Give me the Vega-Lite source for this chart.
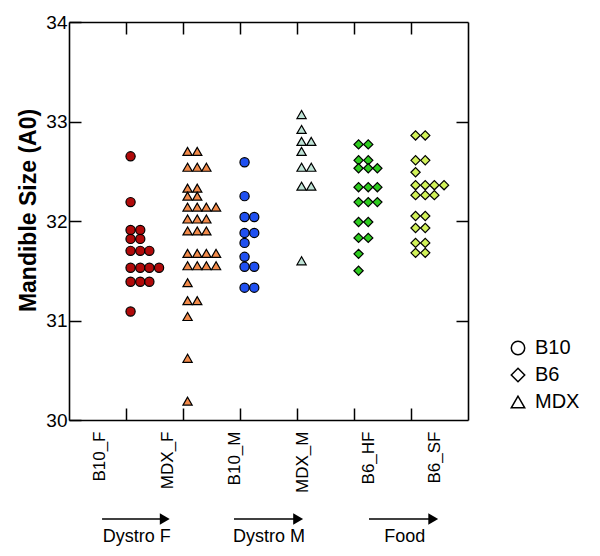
{
  "$schema": "https://vega.github.io/schema/vega-lite/v6.json",
  "width": 399,
  "height": 398,
  "autosize": {"type": "none"},
  "padding": {"left": 69, "top": 22, "right": 132, "bottom": 136},
  "config": {
    "view": {"stroke": null},
    "font": "Liberation Sans",
    "axis": {"grid": false, "domainColor": "black", "tickColor": "black", "domainWidth": 1.6, "tickWidth": 1.5, "labelColor": "black", "titleColor": "black"}
  },
  "datasets": {
    "pts": [
      {"g":"B10_F","s":"B10","v":32.65,"x":1.08},
      {"g":"B10_F","s":"B10","v":32.19,"x":1.08},
      {"g":"B10_F","s":"B10","v":31.91,"x":1.08},
      {"g":"B10_F","s":"B10","v":31.91,"x":1.25},
      {"g":"B10_F","s":"B10","v":31.82,"x":1.08},
      {"g":"B10_F","s":"B10","v":31.82,"x":1.25},
      {"g":"B10_F","s":"B10","v":31.70,"x":1.08},
      {"g":"B10_F","s":"B10","v":31.70,"x":1.25},
      {"g":"B10_F","s":"B10","v":31.70,"x":1.41},
      {"g":"B10_F","s":"B10","v":31.53,"x":1.08},
      {"g":"B10_F","s":"B10","v":31.53,"x":1.25},
      {"g":"B10_F","s":"B10","v":31.53,"x":1.41},
      {"g":"B10_F","s":"B10","v":31.53,"x":1.58},
      {"g":"B10_F","s":"B10","v":31.39,"x":1.08},
      {"g":"B10_F","s":"B10","v":31.39,"x":1.25},
      {"g":"B10_F","s":"B10","v":31.39,"x":1.41},
      {"g":"B10_F","s":"B10","v":31.09,"x":1.08},

      {"g":"MDX_F","s":"MDX","v":32.70,"x":2.08},
      {"g":"MDX_F","s":"MDX","v":32.70,"x":2.25},
      {"g":"MDX_F","s":"MDX","v":32.54,"x":2.08},
      {"g":"MDX_F","s":"MDX","v":32.54,"x":2.25},
      {"g":"MDX_F","s":"MDX","v":32.54,"x":2.41},
      {"g":"MDX_F","s":"MDX","v":32.33,"x":2.08},
      {"g":"MDX_F","s":"MDX","v":32.33,"x":2.25},
      {"g":"MDX_F","s":"MDX","v":32.25,"x":2.08},
      {"g":"MDX_F","s":"MDX","v":32.25,"x":2.25},
      {"g":"MDX_F","s":"MDX","v":32.14,"x":2.08},
      {"g":"MDX_F","s":"MDX","v":32.14,"x":2.25},
      {"g":"MDX_F","s":"MDX","v":32.14,"x":2.41},
      {"g":"MDX_F","s":"MDX","v":32.14,"x":2.58},
      {"g":"MDX_F","s":"MDX","v":32.02,"x":2.08},
      {"g":"MDX_F","s":"MDX","v":32.02,"x":2.25},
      {"g":"MDX_F","s":"MDX","v":32.02,"x":2.41},
      {"g":"MDX_F","s":"MDX","v":31.90,"x":2.08},
      {"g":"MDX_F","s":"MDX","v":31.90,"x":2.25},
      {"g":"MDX_F","s":"MDX","v":31.90,"x":2.41},
      {"g":"MDX_F","s":"MDX","v":31.675,"x":2.08},
      {"g":"MDX_F","s":"MDX","v":31.675,"x":2.25},
      {"g":"MDX_F","s":"MDX","v":31.675,"x":2.41},
      {"g":"MDX_F","s":"MDX","v":31.675,"x":2.58},
      {"g":"MDX_F","s":"MDX","v":31.55,"x":2.08},
      {"g":"MDX_F","s":"MDX","v":31.55,"x":2.25},
      {"g":"MDX_F","s":"MDX","v":31.55,"x":2.41},
      {"g":"MDX_F","s":"MDX","v":31.55,"x":2.58},
      {"g":"MDX_F","s":"MDX","v":31.38,"x":2.08},
      {"g":"MDX_F","s":"MDX","v":31.20,"x":2.08},
      {"g":"MDX_F","s":"MDX","v":31.20,"x":2.25},
      {"g":"MDX_F","s":"MDX","v":31.04,"x":2.08},
      {"g":"MDX_F","s":"MDX","v":30.62,"x":2.08},
      {"g":"MDX_F","s":"MDX","v":30.19,"x":2.08},

      {"g":"B10_M","s":"B10","v":32.59,"x":3.08},
      {"g":"B10_M","s":"B10","v":32.25,"x":3.08},
      {"g":"B10_M","s":"B10","v":32.04,"x":3.08},
      {"g":"B10_M","s":"B10","v":32.04,"x":3.25},
      {"g":"B10_M","s":"B10","v":31.88,"x":3.08},
      {"g":"B10_M","s":"B10","v":31.88,"x":3.25},
      {"g":"B10_M","s":"B10","v":31.78,"x":3.08},
      {"g":"B10_M","s":"B10","v":31.64,"x":3.08},
      {"g":"B10_M","s":"B10","v":31.54,"x":3.08},
      {"g":"B10_M","s":"B10","v":31.54,"x":3.25},
      {"g":"B10_M","s":"B10","v":31.33,"x":3.08},
      {"g":"B10_M","s":"B10","v":31.33,"x":3.25},

      {"g":"MDX_M","s":"MDX","v":33.07,"x":4.08},
      {"g":"MDX_M","s":"MDX","v":32.92,"x":4.08},
      {"g":"MDX_M","s":"MDX","v":32.80,"x":4.08},
      {"g":"MDX_M","s":"MDX","v":32.80,"x":4.25},
      {"g":"MDX_M","s":"MDX","v":32.70,"x":4.08},
      {"g":"MDX_M","s":"MDX","v":32.54,"x":4.08},
      {"g":"MDX_M","s":"MDX","v":32.54,"x":4.25},
      {"g":"MDX_M","s":"MDX","v":32.35,"x":4.08},
      {"g":"MDX_M","s":"MDX","v":32.35,"x":4.25},
      {"g":"MDX_M","s":"MDX","v":31.60,"x":4.08},

      {"g":"B6_HF","s":"B6","v":32.77,"x":5.08},
      {"g":"B6_HF","s":"B6","v":32.77,"x":5.25},
      {"g":"B6_HF","s":"B6","v":32.61,"x":5.08},
      {"g":"B6_HF","s":"B6","v":32.61,"x":5.25},
      {"g":"B6_HF","s":"B6","v":32.53,"x":5.08},
      {"g":"B6_HF","s":"B6","v":32.53,"x":5.25},
      {"g":"B6_HF","s":"B6","v":32.53,"x":5.41},
      {"g":"B6_HF","s":"B6","v":32.34,"x":5.08},
      {"g":"B6_HF","s":"B6","v":32.34,"x":5.25},
      {"g":"B6_HF","s":"B6","v":32.34,"x":5.41},
      {"g":"B6_HF","s":"B6","v":32.19,"x":5.08},
      {"g":"B6_HF","s":"B6","v":32.19,"x":5.25},
      {"g":"B6_HF","s":"B6","v":32.19,"x":5.41},
      {"g":"B6_HF","s":"B6","v":31.99,"x":5.08},
      {"g":"B6_HF","s":"B6","v":31.99,"x":5.25},
      {"g":"B6_HF","s":"B6","v":31.83,"x":5.08},
      {"g":"B6_HF","s":"B6","v":31.83,"x":5.25},
      {"g":"B6_HF","s":"B6","v":31.67,"x":5.08},
      {"g":"B6_HF","s":"B6","v":31.50,"x":5.08},

      {"g":"B6_SF","s":"B6","v":32.86,"x":6.08},
      {"g":"B6_SF","s":"B6","v":32.86,"x":6.25},
      {"g":"B6_SF","s":"B6","v":32.61,"x":6.08},
      {"g":"B6_SF","s":"B6","v":32.61,"x":6.25},
      {"g":"B6_SF","s":"B6","v":32.49,"x":6.08},
      {"g":"B6_SF","s":"B6","v":32.36,"x":6.08},
      {"g":"B6_SF","s":"B6","v":32.36,"x":6.25},
      {"g":"B6_SF","s":"B6","v":32.36,"x":6.41},
      {"g":"B6_SF","s":"B6","v":32.36,"x":6.58},
      {"g":"B6_SF","s":"B6","v":32.26,"x":6.08},
      {"g":"B6_SF","s":"B6","v":32.26,"x":6.25},
      {"g":"B6_SF","s":"B6","v":32.26,"x":6.41},
      {"g":"B6_SF","s":"B6","v":32.05,"x":6.08},
      {"g":"B6_SF","s":"B6","v":32.05,"x":6.25},
      {"g":"B6_SF","s":"B6","v":31.93,"x":6.08},
      {"g":"B6_SF","s":"B6","v":31.93,"x":6.25},
      {"g":"B6_SF","s":"B6","v":31.78,"x":6.08},
      {"g":"B6_SF","s":"B6","v":31.78,"x":6.25},
      {"g":"B6_SF","s":"B6","v":31.68,"x":6.08},
      {"g":"B6_SF","s":"B6","v":31.68,"x":6.25}
    ],
    "arrows": [
      {"grp":"Dystro F","a":0.58,"b":1.68,"t":1.19},
      {"grp":"Dystro M","a":2.895,"b":4.02,"t":3.51},
      {"grp":"Food","a":5.263,"b":6.39,"t":5.89}
    ]
  },
  "layer": [
    {
      "data": {"name": "pts"},
      "mark": {"type": "point", "filled": true, "stroke": "black", "strokeWidth": 1.2, "size": 85, "opacity": 1},
      "encoding": {
        "x": {"field": "x", "type": "quantitative", "scale": {"domain": [0, 7], "nice": false, "zero": false},
              "axis": {"orient": "bottom", "values": [1,2,3,4,5,6], "labels": false, "tickSize": -12, "title": null}},
        "y": {"field": "v", "type": "quantitative", "scale": {"domain": [30, 34], "nice": false, "zero": false},
              "axis": {"orient": "left", "values": [30,31,32,33,34], "tickSize": -12, "labelFontSize": 19, "labelPadding": 14,
                       "title": "Mandible Size (A0)", "titleFontSize": 23, "titleFontWeight": "bold", "titlePadding": 5, "titleY": 188}},
        "fill": {"field": "g", "type": "nominal", "legend": null,
                 "scale": {"domain": ["B10_F","MDX_F","B10_M","MDX_M","B6_HF","B6_SF"],
                           "range": ["#b00a0a","#f28a4a","#2050f0","#bfe3d6","#2ecc1f","#d2f25a"]}},
        "shape": {"field": "s", "type": "nominal",
                  "scale": {"domain": ["B10","B6","MDX"], "range": ["circle","diamond","triangle-up"]},
                  "legend": {"title": null, "orient": "none", "legendX": 439, "legendY": 316, "labelFontSize": 20, "labelColor": "black",
                             "symbolSize": 180, "symbolStrokeWidth": 1.5, "labelOffset": 7, "rowPadding": 7, "padding": 0,
                             "symbolFillColor": "transparent", "symbolStrokeColor": "black",
                             "encode": {"symbols": {"update": {"fill": {"value": "transparent"}, "stroke": {"value": "black"}, "strokeWidth": {"value": 1.5}, "opacity": {"value": 1}}}}}}
      }
    },
    {
      "data": {"name": "pts"},
      "mark": {"type": "point", "opacity": 0},
      "encoding": {
        "x": {"field": "x", "type": "quantitative", "scale": {"domain": [0, 7], "nice": false, "zero": false},
              "axis": {"orient": "top", "values": [1,2,3,4,5,6], "labels": false, "tickSize": -12, "title": null}},
        "y": {"field": "v", "type": "quantitative", "scale": {"domain": [30, 34], "nice": false, "zero": false},
              "axis": {"orient": "right", "values": [31,32,33], "labels": false, "tickSize": -12, "title": null}}
      }
    },
    {
      "data": {"name": "arrows"},
      "mark": {"type": "rule", "stroke": "black", "strokeWidth": 1.5},
      "encoding": {
        "x": {"field": "a", "type": "quantitative", "scale": {"domain": [0, 7], "nice": false, "zero": false},
              "axis": {"orient": "bottom", "values": [0.53, 1.72, 2.91, 4.09, 5.25, 6.42],
                       "labelExpr": "datum.value < 1 ? 'B10_F' : datum.value < 2 ? 'MDX_F' : datum.value < 3 ? 'B10_M' : datum.value < 4.5 ? 'MDX_M' : datum.value < 6 ? 'B6_HF' : 'B6_SF'",
                       "ticks": false, "domain": false, "labelAngle": -90, "labelFontSize": 17, "labelPadding": 11, "title": null, "labelFlush": false, "labelOverlap": false}},
        "x2": {"field": "b"},
        "y": {"datum": 29.005, "scale": {"domain": [30, 34], "nice": false, "zero": false}, "axis": null}
      }
    },
    {
      "data": {"name": "arrows"},
      "mark": {"type": "point", "shape": "triangle-right", "filled": true, "fill": "black", "stroke": null, "size": 130, "opacity": 1},
      "encoding": {
        "x": {"field": "b", "type": "quantitative", "scale": {"domain": [0, 7], "nice": false, "zero": false}, "axis": null},
        "y": {"datum": 29.005, "scale": {"domain": [30, 34], "nice": false, "zero": false}, "axis": null}
      }
    },
    {
      "data": {"name": "arrows"},
      "mark": {"type": "text", "fontSize": 18, "color": "black", "baseline": "middle", "align": "center"},
      "encoding": {
        "x": {"field": "t", "type": "quantitative", "scale": {"domain": [0, 7], "nice": false, "zero": false}, "axis": null},
        "y": {"datum": 28.82, "scale": {"domain": [30, 34], "nice": false, "zero": false}, "axis": null},
        "text": {"field": "grp"}
      }
    }
  ],
  "resolve": {"axis": {"x": "independent", "y": "independent"}}
}
